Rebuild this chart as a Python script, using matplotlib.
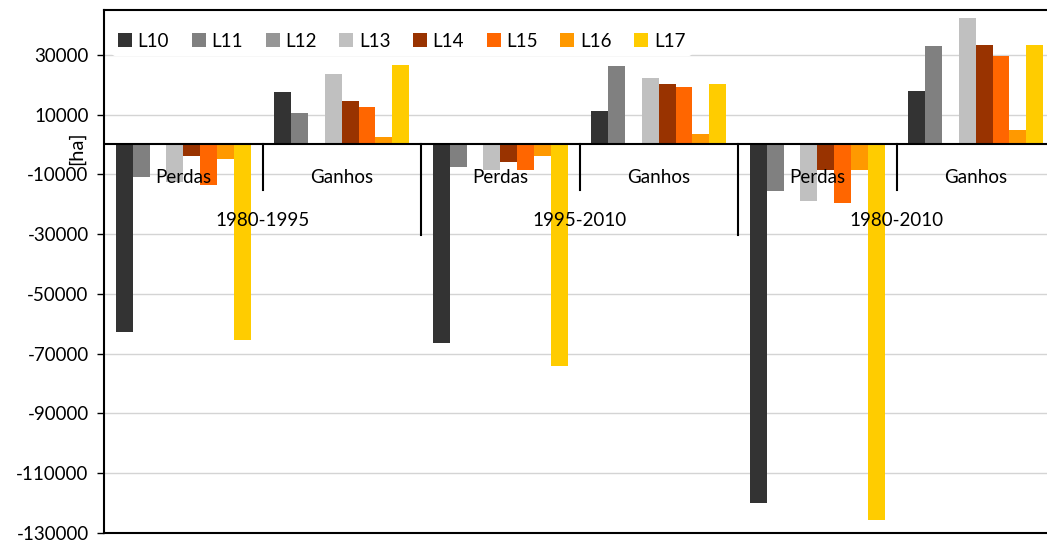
import matplotlib
matplotlib.use("Agg")
import matplotlib.pyplot as plt
import numpy as np

plt.rcParams['font.family'] = ['Lato', 'DejaVu Sans']

series = ["L10", "L11", "L12", "L13", "L14", "L15", "L16", "L17"]
colors = ["#333333", "#808080", "#969696", "#C0C0C0", "#993300", "#FF6600", "#FF9900", "#FFCC00"]
subcats = ["Perdas", "Ganhos", "Perdas", "Ganhos", "Perdas", "Ganhos"]
periods = ["1980-1995", "1995-2010", "1980-2010"]

# values per series, across the 6 groups (Perdas/Ganhos x 3 periods)
L10 = [-62600, 17400, -66400, 11100, -120000, 17800]
L11 = [-11000, 10700, -7700, 26100, -15400, 32800]
L12 = [0, 0, 0, 0, 0, 0]
L13 = [-12600, 23500, -8700, 22100, -18800, 42200]
L14 = [-3900, 14400, -5700, 20400, -8400, 33200]
L15 = [-13400, 12700, -8700, 19100, -19700, 29500]
L16 = [-5000, 2500, -3900, 3400, -8400, 5000]
L17 = [-65300, 26500, -74000, 20400, -125600, 33200]
data = [L10, L11, L12, L13, L14, L15, L16, L17]

yticks = [30000, 10000, -10000, -30000, -50000, -70000, -90000, -110000, -130000]

W, H = 1047, 543
fig = plt.figure(figsize=(W/100, H/100), dpi=100)
left_px, right_px, top_px, bot_px = 104, 1055, 10, 533
ax = fig.add_axes([left_px/W, (H-bot_px)/H, (right_px-left_px)/W, (bot_px-top_px)/H])

n = len(series)
group_w = 0.85
bw = group_w / n
centers = np.arange(len(subcats)) + 0.5
for i, (name, vals, c) in enumerate(zip(series, data, colors)):
    x = centers - group_w/2 + bw*(i + 0.5)
    ax.bar(x, vals, width=bw, color=c, label=name, zorder=3)

ax.set_xlim(0, 6)
ax.set_ylim(-130000, 45000)
ax.set_yticks(yticks)
ax.set_yticklabels([str(t) for t in yticks], fontsize=13.5)
ax.set_xticks([])
ax.yaxis.grid(True, color="#D4D4D4", lw=1, zorder=0)
ax.set_axisbelow(True)
ax.tick_params(axis='y', length=5, width=1, color='black', pad=6)
for s in ['left', 'bottom', 'top', 'right']:
    ax.spines[s].set_color('black')
    ax.spines[s].set_linewidth(1.5)

# zero line (category axis)
ax.axhline(0, color='black', lw=1.5, zorder=4)

# separators
for k in range(1, 6):
    ybot = -30300 if k % 2 == 0 else -15200
    ax.plot([k, k], [0, ybot], color='black', lw=1.5, zorder=4, clip_on=False)

for c, lab in zip(centers, subcats):
    ax.text(c, -11200, lab, ha='center', va='center', fontsize=13.5, zorder=5)
for j, p in enumerate(periods):
    ax.text(2*j + 1, -25600, p, ha='center', va='center', fontsize=13.5, zorder=5)

fig.text(76/W, 1 - 148/H, "[ha]", rotation=90, ha='center', va='center', fontsize=14.5)

leg = ax.legend(loc='upper left', ncol=8, frameon=True, fontsize=13.5,
                bbox_to_anchor=(-0.001, 0.985), handlelength=0.75, handleheight=0.75,
                handletextpad=0.3, columnspacing=1.2, borderpad=0.3)
leg.get_frame().set_edgecolor('white')
leg.get_frame().set_facecolor('white')
leg.get_frame().set_alpha(1)

fig.savefig("out.png", dpi=100)
